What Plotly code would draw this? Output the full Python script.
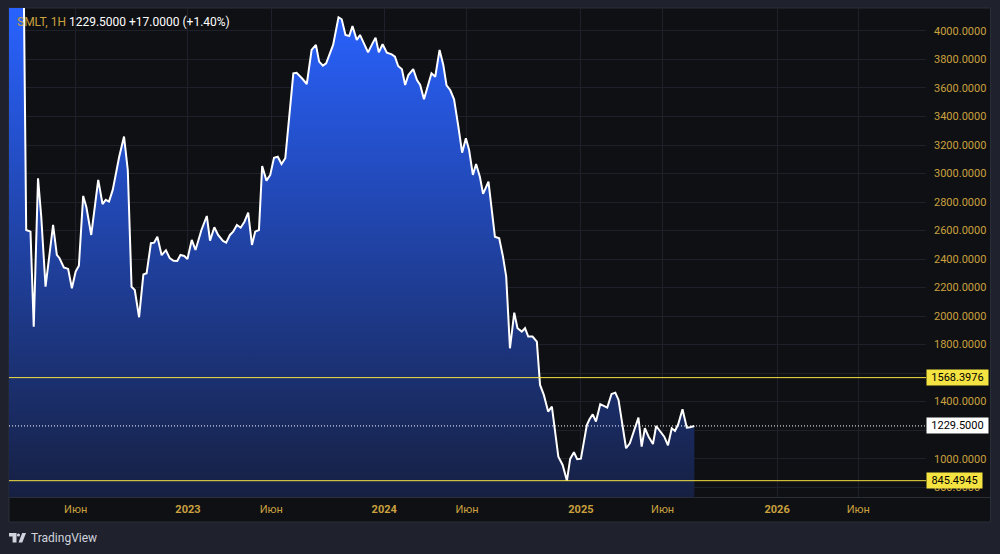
import pandas as pd
import plotly.graph_objects as go

# ---- data ----
days_since_2023 = [
    -340, -306, -301, -293, -287, -279, -273, -265, -251, -244,
    -239, -231, -223, -216, -209, -203, -195, -189, -180, -167,
    -159, -153, -147, -140, -128, -119, -112, -105, -99, -91,
    -83, -77, -69, -63, -57, -49, -41, -34, -27, -20,
    -14, -7, -1, 7, 14, 25, 35, 41, 49, 56,
    65, 71, 78, 84, 91, 98, 105, 112, 119, 125,
    132, 138, 146, 153, 160, 167, 174, 181, 196, 202,
    212, 221, 230, 238, 244, 251, 257, 270, 280, 286,
    293, 300, 306, 314, 320, 335, 344, 349, 355, 362,
    370, 379, 385, 391, 398, 404, 410, 419, 426, 432,
    439, 447, 453, 460, 468, 475, 481, 488, 495, 503,
    510, 517, 523, 530, 536, 543, 549, 559, 565, 571,
    579, 586, 592, 599, 607, 613, 621, 627, 633, 641,
    649, 655, 662, 670, 677, 683, 689, 697, 705, 711,
    718, 724, 731, 742, 747, 753, 759, 767, 774, 780,
    788, 795, 801, 807, 815, 822, 838, 844, 850, 857,
    865, 871, 878, 886, 893, 900, 906, 912, 920, 928,
    934, 942,
]
close_prices = [
    5400, 4500, 2604, 2592, 1926, 2967, 2697, 2206, 2639, 2429,
    2406, 2342, 2331, 2195, 2312, 2354, 2843, 2763, 2569, 2955,
    2786, 2815, 2803, 2885, 3118, 3259, 3025, 2206, 2183, 1992,
    2292, 2300, 2511, 2515, 2557, 2427, 2462, 2406, 2388, 2387,
    2429, 2422, 2401, 2534, 2464, 2604, 2702, 2529, 2623, 2569,
    2527, 2515, 2569, 2592, 2639, 2620, 2662, 2725, 2499, 2592,
    2604, 3053, 2950, 2990, 3111, 3118, 3067, 3107, 3703, 3707,
    3668, 3628, 3867, 3902, 3785, 3757, 3773, 3902, 4096, 4082,
    3972, 3965, 4035, 3937, 3972, 3850, 3918, 3953, 3850, 3907,
    3848, 3836, 3820, 3754, 3731, 3621, 3691, 3733, 3656, 3621,
    3521, 3633, 3703, 3679, 3867, 3761, 3618, 3584, 3521, 3329,
    3146, 3247, 3165, 2990, 3067, 2978, 2857, 2943, 2768, 2557,
    2546, 2417, 2277, 1774, 2024, 1915, 1891, 1915, 1856, 1856,
    1821, 1517, 1447, 1330, 1365, 1178, 1014, 956, 845.5, 998,
    1045, 996, 1000, 1236, 1276, 1311, 1260, 1382, 1372, 1358,
    1454, 1463, 1412, 1271, 1073, 1108, 1288, 1084, 1213, 1154,
    1103, 1229, 1194, 1154, 1094, 1213, 1194, 1241, 1346, 1217,
    1220, 1229.5,
]
level_high = 1568.3976
level_low = 845.4945
last_price = 1229.5

x_tick_dates = ["2022-06-06", "2023-01-01", "2023-06-05", "2024-01-01",
                "2024-06-03", "2025-01-01", "2025-06-02", "2026-01-01", "2026-06-01"]
x_tick_text = ["Июн", "<b>2023</b>", "Июн", "<b>2024</b>", "Июн",
               "<b>2025</b>", "Июн", "<b>2026</b>", "Июн"]
y_tick_vals = list(range(800, 4001, 200))
# 1200 and 1600 labels are hidden behind the price labels in the reference
y_tick_text = ["" if v in (1200, 1600) else f"{v:.4f}" for v in y_tick_vals]

dates = pd.Timestamp("2023-01-01") + pd.to_timedelta(days_since_2023, unit="D")

GOLD = "#c9a13f"
GRID = "#1e2129"
BORDER = "#2a2e39"
PANEL = "#0f1014"
OUTER = "#1f222d"
YELLOW = "#f5e342"

# pixel -> paper helpers (plot area: x 9..926, y 8..497)
def px(x):
    return (x - 9) / 917.0

def py(y):
    return (497 - y) / 489.0

fig = go.Figure()
fig.add_trace(go.Scatter(
    x=dates, y=close_prices, mode="lines",
    line=dict(color="#ffffff", width=2),
    fill="tozeroy",
    fillgradient=dict(type="vertical",
                      colorscale=[[0, "rgb(22,32,66)"], [1, "rgb(41,98,255)"]],
                      start=731, stop=4161),
    hoverinfo="skip", showlegend=False,
))

shapes = [
    dict(type="rect", xref="paper", yref="paper", x0=px(9), x1=px(990.5), y0=py(522), y1=py(8),
         fillcolor=PANEL, line=dict(color=BORDER, width=1), layer="below"),
    dict(type="line", xref="paper", yref="paper", x0=px(9), x1=px(990.5), y0=py(497.5), y1=py(497.5),
         line=dict(color=BORDER, width=1)),
    dict(type="line", xref="paper", yref="y", x0=0, x1=1, y0=level_high, y1=level_high,
         line=dict(color=YELLOW, width=1)),
    dict(type="line", xref="paper", yref="y", x0=0, x1=1, y0=level_low, y1=level_low,
         line=dict(color=YELLOW, width=1)),
    dict(type="line", xref="paper", yref="y", x0=0, x1=1, y0=last_price, y1=last_price,
         line=dict(color="#ffffff", width=1, dash="1px,2px")),
    # TradingView logo
    dict(type="path", xref="paper", yref="paper",
         path=f"M {px(9)},{py(533)} L {px(16.5)},{py(533)} L {px(16.5)},{py(542.5)} L {px(12.6)},{py(542.5)} "
              f"L {px(12.6)},{py(536.6)} L {px(9)},{py(536.6)} Z",
         fillcolor="#d1d4dc", line=dict(width=0)),
    dict(type="circle", xref="paper", yref="paper", x0=px(16.8), x1=px(20.0), y0=py(536.6), y1=py(533.4),
         fillcolor="#d1d4dc", line=dict(width=0)),
    dict(type="path", xref="paper", yref="paper",
         path=f"M {px(18.5)},{py(542.5)} L {px(22.3)},{py(542.5)} L {px(26)},{py(533)} L {px(22.2)},{py(533)} Z",
         fillcolor="#d1d4dc", line=dict(width=0)),
]

annotations = [
    dict(xref="paper", yref="paper", x=px(15), y=py(22), xanchor="left", yanchor="middle",
         text=f"<span style='color:{GOLD}'>SMLT, 1H</span> "
              f"<span style='color:#ffffff'>1229.5000 +17.0000 (+1.40%)</span>",
         showarrow=False, font=dict(family="Roboto, sans-serif", size=12)),
    dict(xref="paper", yref="y", x=1, y=level_high, xanchor="left", yanchor="middle",
         text="1568.3976", showarrow=False, bgcolor=YELLOW, borderpad=1, width=59,
         font=dict(family="Roboto, sans-serif", size=11, color="#000000")),
    dict(xref="paper", yref="y", x=1, y=last_price, xanchor="left", yanchor="middle",
         text="1229.5000", showarrow=False, bgcolor="#ffffff", borderpad=1, width=59,
         font=dict(family="Roboto, sans-serif", size=11, color="#000000")),
    dict(xref="paper", yref="y", x=1, y=level_low, xanchor="left", yanchor="middle",
         text="845.4945", showarrow=False, bgcolor=YELLOW, borderpad=1, width=53,
         font=dict(family="Roboto, sans-serif", size=11, color="#000000")),
    dict(xref="paper", yref="paper", x=px(29), y=py(538), xanchor="left", yanchor="middle",
         text="TradingView", showarrow=False,
         font=dict(family="Roboto, sans-serif", size=12, color="#d1d4dc")),
]

fig.update_layout(
    width=1000, height=554,
    margin=dict(l=9, r=74, t=8, b=57),
    paper_bgcolor=OUTER, plot_bgcolor=PANEL,
    shapes=shapes, annotations=annotations,
    showlegend=False,
    xaxis=dict(type="date", range=["2022-02-02", "2026-10-05"],
               tickvals=x_tick_dates, ticktext=x_tick_text,
               showgrid=True, gridcolor=GRID, gridwidth=1, zeroline=False,
               showline=False, ticks="", ticklabelstandoff=4,
               tickfont=dict(family="Roboto, sans-serif", size=11, color=GOLD),
               fixedrange=True),
    yaxis=dict(side="right", range=[731, 4161],
               tickvals=y_tick_vals, ticktext=y_tick_text,
               showgrid=True, gridcolor=GRID, gridwidth=1, zeroline=False,
               showline=False, ticks="", ticklabelstandoff=7,
               tickfont=dict(family="Roboto, sans-serif", size=11, color=GOLD),
               fixedrange=True),
)

fig.write_html("out.html")
